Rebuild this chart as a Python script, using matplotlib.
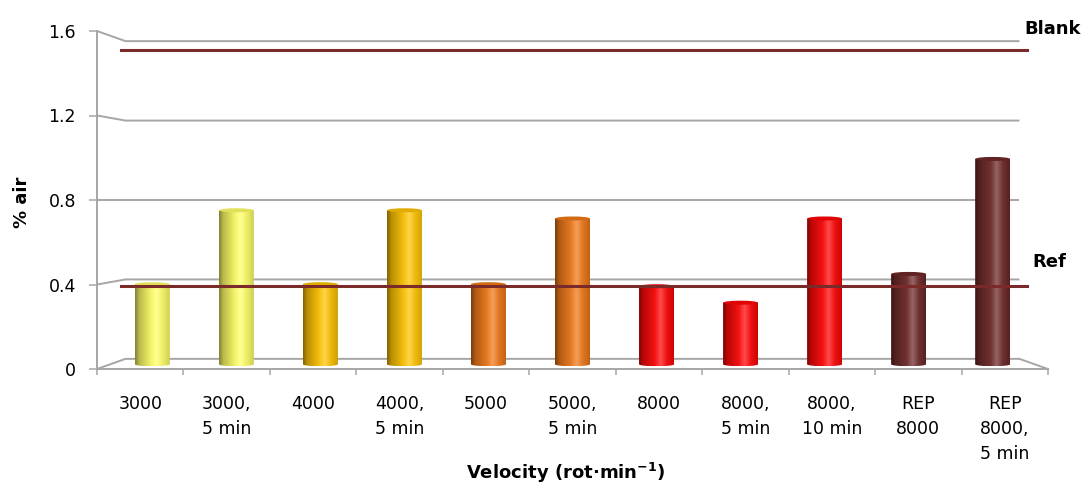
import numpy as np
import matplotlib
matplotlib.use('Agg')
import matplotlib.pyplot as plt
from matplotlib.patches import Ellipse, Polygon
from matplotlib.colors import to_rgb

# ---------------- data ----------------
categories = ["3000", "3000,\n5 min", "4000", "4000,\n5 min", "5000",
              "5000,\n5 min", "8000", "8000,\n5 min", "8000,\n10 min",
              "REP\n8000", "REP\n8000,\n5 min"]
air_pct = [0.39, 0.75, 0.39, 0.75, 0.39, 0.71, 0.38, 0.30, 0.71, 0.44, 1.00]
blank_level = 1.51
ref_level = 0.395
y_ticks = [0, 0.4, 0.8, 1.2, 1.6]
y_tick_labels = ["0", "0.4", "0.8", "1.2", "1.6"]

# ---------------- style ----------------
bar_colors = ['#FFFF66', '#FFFF66', '#FFC400', '#FFC400', '#F07818', '#F07818',
              '#FF0505', '#FF0505', '#FF0505', '#6E2828', '#6E2828']
grid_col = '#A6A6A6'
line_col = '#7B2A2A'
plt.rcParams['font.family'] = ['DejaVu Sans']

W, H = 1088, 483
fig = plt.figure(figsize=(W / 100, H / 100), dpi=100)
ax = fig.add_axes([97 / W, (H - 369) / H, 951 / W, 338 / H])
n = len(categories)

cx, cy = (n - 1) / 2, 0.8          # perspective centre
S_BACK, S_BAR, S_LINE = 0.94, 0.972, 0.95


def persp(x, y, s):
    return cx + (np.asarray(x, float) - cx) * s, cy + (np.asarray(y, float) - cy) * s


# back wall gridlines with slanted side connectors
for v in y_ticks:
    xb0, yb = persp(-0.5, v, S_BACK)
    xb1, _ = persp(n - 0.5, v, S_BACK)
    ax.plot([-0.5, xb0, xb1], [v, yb, yb], color=grid_col, lw=1.4,
            clip_on=False, zorder=1, solid_capstyle='butt')
# floor right edge
xb1, yb0 = persp(n - 0.5, 0, S_BACK)
ax.plot([xb1, n - 0.5], [yb0, 0], color=grid_col, lw=1.4, clip_on=False, zorder=1)

# cylinder bars
t = np.linspace(0, 1, 256)
shade = np.interp(t, [0, 0.12, 0.45, 0.62, 0.85, 1.0], [0.5, 0.72, 0.95, 1.0, 0.9, 0.8])
white = np.interp(t, [0, 0.45, 0.62, 0.8, 1.0], [0, 0.05, 0.28, 0.05, 0])
px_per_x = 951 / 11
px_per_y = 338 / 1.6
w = 35 / px_per_x
e = 2.0 / px_per_y

for i, (v, col) in enumerate(zip(air_pct, bar_colors)):
    base = np.array(to_rgb(col))
    rgb = base[None, :] * shade[:, None]
    rgb = rgb * (1 - white[:, None]) + white[:, None]
    img = np.clip(rgb, 0, 1)[None, :, :]
    xc, _ = persp(i, 0, S_BAR)
    _, yb = persp(0, 0, S_BAR)
    _, yt = persp(0, v, S_BAR)
    x0, x1 = xc - w / 2, xc + w / 2
    ang = np.linspace(0, np.pi, 40)
    bottom = np.column_stack([xc + w / 2 * np.cos(ang), yb - e * np.sin(ang)])
    poly = np.vstack([[[x1, yt]], bottom, [[x0, yt]]])
    clip = Polygon(poly, closed=True, transform=ax.transData, facecolor='none', edgecolor='none')
    ax.add_patch(clip)
    im = ax.imshow(img, extent=[x0, x1, yb - e, yt], aspect='auto',
                   interpolation='bilinear', zorder=2)
    im.set_clip_path(clip)
    top_col = np.clip(base * 0.88, 0, 1)
    ax.add_patch(Ellipse((xc, yt), w * 0.99, 2 * e, facecolor=top_col,
                         edgecolor='none', zorder=3))

# Blank / Ref reference lines
lx0, _ = persp(-0.5, 0, S_LINE)
lx1, _ = persp(n - 0.5, 0, S_LINE)
ax.plot([lx0, lx1 + 0.03], [blank_level, blank_level], color=line_col, lw=2.2,
        zorder=4, clip_on=False)
ax.plot([lx0, lx1 + 0.03], [ref_level, ref_level], color=line_col, lw=2.2,
        zorder=4, clip_on=False)
ax.text(lx1, blank_level + 0.1, "Blank", fontsize=13, fontweight='bold',
        ha='left', va='center', clip_on=False)
ax.text(lx1 + 0.09, ref_level + 0.11, "Ref", fontsize=13, fontweight='bold',
        ha='left', va='center', clip_on=False)

# axes
ax.set_xlim(-0.5, n - 0.5)
ax.set_ylim(0, 1.6)
ax.set_yticks(y_ticks, y_tick_labels)
ax.set_xticks(range(n), categories)
ax.set_xticks(np.arange(-0.5, n, 1), minor=True)
ax.tick_params(axis='y', length=5.8, width=1.1, color=grid_col, pad=9.4,
               labelsize=12.5, direction='out')
ax.tick_params(axis='x', which='major', length=0, pad=19, labelsize=12.5)
ax.tick_params(axis='x', which='minor', length=4.5, width=1.1, color=grid_col,
               direction='out')
for lbl in ax.get_xticklabels():
    lbl.set_linespacing(1.5)
    lbl.set_verticalalignment('top')
for side in ['top', 'right']:
    ax.spines[side].set_visible(False)
for side in ['left', 'bottom']:
    ax.spines[side].set_color(grid_col)
    ax.spines[side].set_linewidth(1.4)
ax.patch.set_visible(False)

fig.text(22 / W, 1 - 202 / H, "% air", rotation=90, fontsize=13,
         fontweight='bold', ha='center', va='center')
fig.text(566 / W, 1 - 473 / H, r"Velocity (rot·min$^{\mathbf{-1}}$)",
         fontsize=13, fontweight='bold', ha='center', va='center')

fig.savefig('out.png', dpi=100)
